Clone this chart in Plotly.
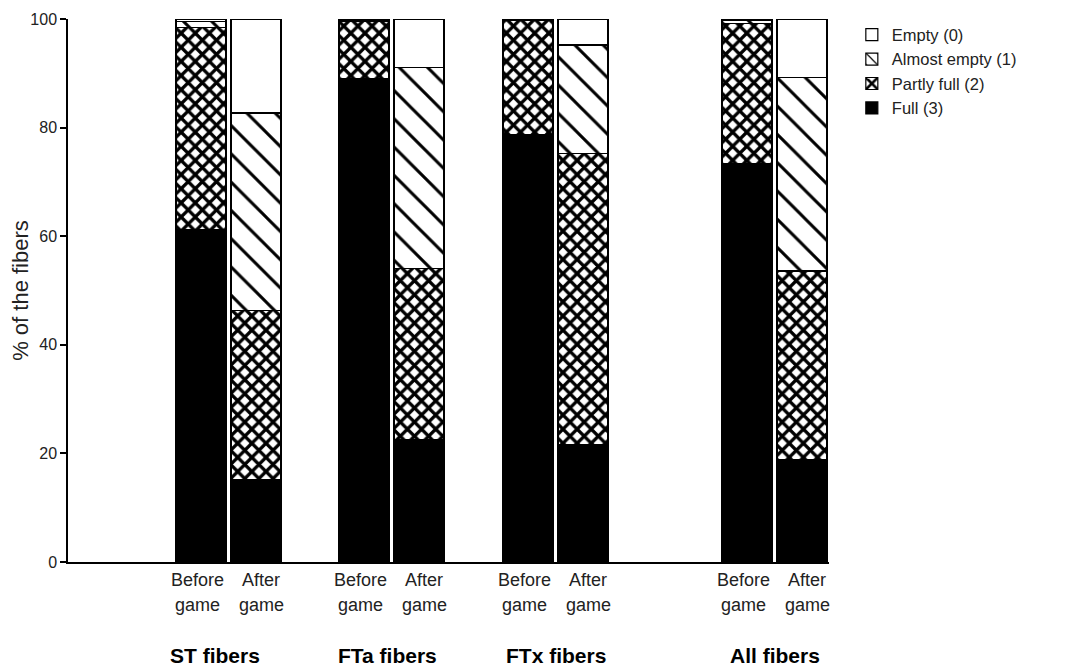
import plotly.graph_objects as go

groups = ["ST fibers", "FTa fibers", "FTx fibers", "All fibers"]
conditions_top = ["Before", "After"]
conditions_bottom = ["game", "game"]

# values per bar in order: ST before, ST after, FTa before, FTa after, FTx before, FTx after, All before, All after
full =         [61.2, 15.1, 89.1, 22.6, 78.7, 21.7, 73.3, 18.8]
partly_full =  [37.2, 31.2, 10.5, 31.5, 21.0, 53.6, 25.9, 34.8]
almost_empty = [ 1.2, 36.4,  0.2, 36.9,  0.2, 19.9,  0.6, 35.7]
empty =        [ 0.4, 17.3,  0.2,  9.0,  0.1,  4.8,  0.2, 10.7]

# layout positions (axis units ~ pixels)
group_centers = [160.5, 323.5, 487.5, 706.5]
group_label_offsets = [-14, -4, 0, 0]
half_gap = 27.5
bar_width = 50

xpos = []
for c in group_centers:
    xpos += [c - half_gap, c + half_gap]

font = "Liberation Sans, Arial, sans-serif"
line = dict(color="black", width=1.2)

fig = go.Figure()
fig.add_bar(x=xpos, y=full, width=bar_width, name="Full (3)",
            marker=dict(color="black", line=line))
fig.add_bar(x=xpos, y=partly_full, width=bar_width, name="Partly full (2)",
            marker=dict(color="white", line=line,
                        pattern=dict(shape="x", size=10, solidity=0.55, fillmode="replace",
                                     fgcolor="#000000", fgopacity=1, bgcolor="white")))
fig.add_bar(x=xpos, y=almost_empty, width=bar_width, name="Almost empty (1)",
            marker=dict(color="white", line=line,
                        pattern=dict(shape="\\", size=20, solidity=0.15, fillmode="replace",
                                     fgcolor="#000000", fgopacity=1, bgcolor="white")))
fig.add_bar(x=xpos, y=empty, width=bar_width, name="Empty (0)",
            marker=dict(color="white", line=line))

# condition labels under bars
for i, x in enumerate(xpos):
    j = i % 2
    fig.add_annotation(x=x + (-4 if j == 0 else 5), y=-0.034, xref="x", yref="paper",
                       text=conditions_top[j], showarrow=False, yanchor="middle",
                       font=dict(family=font, size=18, color="#222"))
    fig.add_annotation(x=x + (-4 if j == 0 else 5), y=-0.080, xref="x", yref="paper",
                       text=conditions_bottom[j], showarrow=False, yanchor="middle",
                       font=dict(family=font, size=18, color="#222"))

for c, off, g in zip(group_centers, group_label_offsets, groups):
    fig.add_annotation(x=c + off, y=-0.172, xref="x", yref="paper", text=f"<b>{g}</b>",
                       showarrow=False, yanchor="middle",
                       font=dict(family=font, size=21, color="black"))

fig.update_layout(
    barmode="stack",
    width=1069, height=661,
    margin=dict(l=60, r=248, t=11, b=107, autoexpand=False),
    plot_bgcolor="white", paper_bgcolor="white",
    font=dict(family=font, size=16, color="#222"),
    showlegend=True,
    legend=dict(x=1.03, y=1.003, xanchor="left", yanchor="top",
                traceorder="reversed", font=dict(family=font, size=16.5, color="#222"),
                itemwidth=30, tracegroupgap=0, bgcolor="rgba(0,0,0,0)"),
    xaxis=dict(range=[0, 761], showticklabels=False, automargin=False,
               showline=True, linecolor="black", linewidth=1.5,
               ticks="", showgrid=False, zeroline=False),
    yaxis=dict(range=[0, 100], tickvals=[0, 20, 40, 60, 80, 100], automargin=False,
               showline=True, linecolor="black", linewidth=1.5,
               ticks="outside", ticklen=6, tickwidth=1.5, tickcolor="black",
               showgrid=False, zeroline=False,
               title=dict(text="% of the fibers", font=dict(family=font, size=22, color="#222"),
                          standoff=2),
               tickfont=dict(family=font, size=16, color="#222")),
)

fig.write_html("out.html")
